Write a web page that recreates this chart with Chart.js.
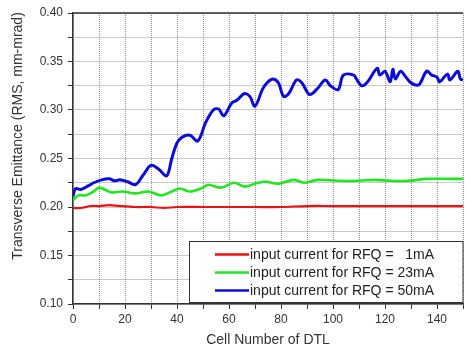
<!DOCTYPE html>
<html>
<head>
<meta charset="utf-8">
<script src="https://cdn.jsdelivr.net/npm/chart.js@4/dist/chart.umd.min.js"></script>
<style>
  body { margin: 0; background: #fff; }
  #wrap { width: 466px; height: 353px; }
</style>
</head>
<body>
<div id="wrap"><canvas id="emitChart" width="466" height="353"></canvas></div>
<script>
// values: cell number -> transverse emittance
const cells1mA = [0, 3, 7, 10, 14, 18, 24, 30, 35, 40, 50, 60, 70, 80, 90, 100, 110, 120, 130, 140, 150];
const emit1mA  = [0.199, 0.199, 0.201, 0.201, 0.202, 0.201, 0.200, 0.200, 0.199, 0.200, 0.200, 0.200, 0.200, 0.200, 0.201, 0.201, 0.201, 0.201, 0.201, 0.201, 0.201];

const cells23mA = [0, 2, 5, 8, 10, 13, 15, 19, 24, 29, 34, 38, 41, 45, 50, 52, 57, 62, 66, 70, 74, 79, 85, 89, 94, 102, 110, 116, 122, 129, 136, 144, 150];
const emit23mA  = [0.207, 0.212, 0.212, 0.216, 0.220, 0.217, 0.215, 0.216, 0.214, 0.216, 0.212, 0.216, 0.219, 0.216, 0.220, 0.223, 0.220, 0.225, 0.221, 0.224, 0.226, 0.224, 0.228, 0.225, 0.228, 0.227, 0.227, 0.228, 0.227, 0.227, 0.229, 0.229, 0.229];

const cells50mA = [0, 1, 3, 6, 8, 11, 14, 16, 18, 21, 24, 27, 30, 33, 36, 38, 40, 42, 45, 48, 51, 54, 56, 58, 61, 63, 66, 68, 70, 73, 75, 77, 79, 81, 83, 86, 88, 91, 94, 97, 99, 102, 104, 108, 109, 111, 113, 117, 118, 120, 122, 123, 124, 126, 128, 130, 133, 136, 138, 140, 141, 144, 145, 148, 149, 150];
const emit50mA  = [0.211, 0.219, 0.218, 0.222, 0.225, 0.228, 0.229, 0.227, 0.228, 0.226, 0.223, 0.233, 0.243, 0.239, 0.232, 0.250, 0.266, 0.272, 0.274, 0.268, 0.287, 0.300, 0.301, 0.294, 0.307, 0.310, 0.317, 0.314, 0.304, 0.322, 0.329, 0.332, 0.328, 0.314, 0.317, 0.331, 0.328, 0.316, 0.322, 0.331, 0.325, 0.321, 0.336, 0.336, 0.332, 0.325, 0.328, 0.343, 0.336, 0.340, 0.329, 0.342, 0.332, 0.340, 0.334, 0.328, 0.326, 0.340, 0.336, 0.334, 0.329, 0.337, 0.331, 0.340, 0.332, 0.331];

const seriesLabels = ['input current for RFQ =   1mA', 'input current for RFQ = 23mA', 'input current for RFQ = 50mA'];
const seriesColors = ['#ee1111', '#22e622', '#0b0bdc'];
const xLabelTicks = [0, 20, 40, 60, 80, 100, 120, 140];
const yLabelTicks = [0.10, 0.15, 0.20, 0.25, 0.30, 0.35, 0.40];

function toPoints(xs, ys) {
    return xs.map((x, i) => ({ x: x, y: ys[i] }));
}

// top frame line, rotated y title and boxed legend
const decorations = {
    id: 'decorations',
    afterDraw(chart) {
        const ctx = chart.ctx;
        const area = chart.chartArea;
        ctx.save();

        ctx.strokeStyle = '#333';
        ctx.lineWidth = 1.5;
        ctx.beginPath();
        ctx.moveTo(area.left, area.top);
        ctx.lineTo(area.right, area.top);
        ctx.stroke();

        ctx.fillStyle = '#333';
        ctx.font = '14px "Liberation Sans", Arial, sans-serif';
        ctx.translate(18, 136);
        ctx.rotate(-Math.PI / 2);
        ctx.textAlign = 'center';
        ctx.textBaseline = 'middle';
        ctx.fillText('Transverse Emittance (RMS, mm-mrad)', 0, 0);
        ctx.restore();

        // legend
        ctx.save();
        const bx = 189.5, by = 241.5, bw = area.right - 189.5, bh = 61;
        ctx.fillStyle = '#fff';
        ctx.fillRect(bx, by, bw, bh);
        ctx.strokeStyle = '#333';
        ctx.lineWidth = 1;
        ctx.strokeRect(bx, by, bw, bh);
        ctx.font = '14px "Liberation Sans", Arial, sans-serif';
        ctx.textBaseline = 'middle';
        chart.data.datasets.forEach((ds, i) => {
            const y = 255 + i * 18;
            ctx.strokeStyle = ds.borderColor;
            ctx.lineWidth = 2.5;
            ctx.beginPath();
            ctx.moveTo(215, y - 0.5);
            ctx.lineTo(249, y - 0.5);
            ctx.stroke();
            ctx.fillStyle = '#222';
            ctx.fillText(ds.label, 250, y);
        });
        ctx.restore();
    }
};

new Chart(document.getElementById('emitChart'), {
    type: 'line',
    data: {
        datasets: [
            { label: seriesLabels[0], data: toPoints(cells1mA, emit1mA), borderColor: seriesColors[0], borderWidth: 2.2 },
            { label: seriesLabels[1], data: toPoints(cells23mA, emit23mA), borderColor: seriesColors[1], borderWidth: 2.6 },
            { label: seriesLabels[2], data: toPoints(cells50mA, emit50mA), borderColor: seriesColors[2], borderWidth: 3 }
        ]
    },
    options: {
        responsive: false,
        animation: false,
        layout: { padding: { top: 13, right: 2, left: 0, bottom: 0 } },
        elements: {
            point: { radius: 0 },
            line: { tension: 0.35, fill: false, cubicInterpolationMode: 'default' }
        },
        plugins: {
            legend: { display: false },
            tooltip: { enabled: false }
        },
        scales: {
            x: {
                type: 'linear',
                min: 0,
                max: 150,
                afterFit: s => { s.height = 49; },
                ticks: {
                    stepSize: 10,
                    color: '#333',
                    padding: 3,
                    maxRotation: 0,
                    autoSkip: false,
                    font: { family: '"Liberation Sans", Arial, sans-serif', size: 12 },
                    callback: v => xLabelTicks.includes(v) ? String(v) : ''
                },
                grid: { color: 'rgba(110,110,110,0.75)', tickColor: '#333', tickLength: 5, lineWidth: 1 },
                border: { color: '#333', width: 1.5, dash: [1, 1] },
                title: {
                    display: true,
                    text: 'Cell Number of DTL',
                    color: '#333',
                    padding: { top: 2 },
                    font: { family: '"Liberation Sans", Arial, sans-serif', size: 14 }
                }
            },
            y: {
                min: 0.10,
                max: 0.40,
                afterFit: s => { s.width = 73; },
                ticks: {
                    stepSize: 0.025,
                    color: '#333',
                    padding: 5,
                    autoSkip: false,
                    font: { family: '"Liberation Sans", Arial, sans-serif', size: 12 },
                    callback: v => {
                        const hit = yLabelTicks.find(t => Math.abs(t - v) < 1e-6);
                        return hit !== undefined ? hit.toFixed(2) : '';
                    }
                },
                grid: { color: 'rgba(110,110,110,0.75)', tickColor: '#333', tickLength: 5, lineWidth: 1 },
                border: { color: '#333', width: 1.5, dash: [1, 1] }
            }
        }
    },
    plugins: [decorations]
});
</script>
</body>
</html>
